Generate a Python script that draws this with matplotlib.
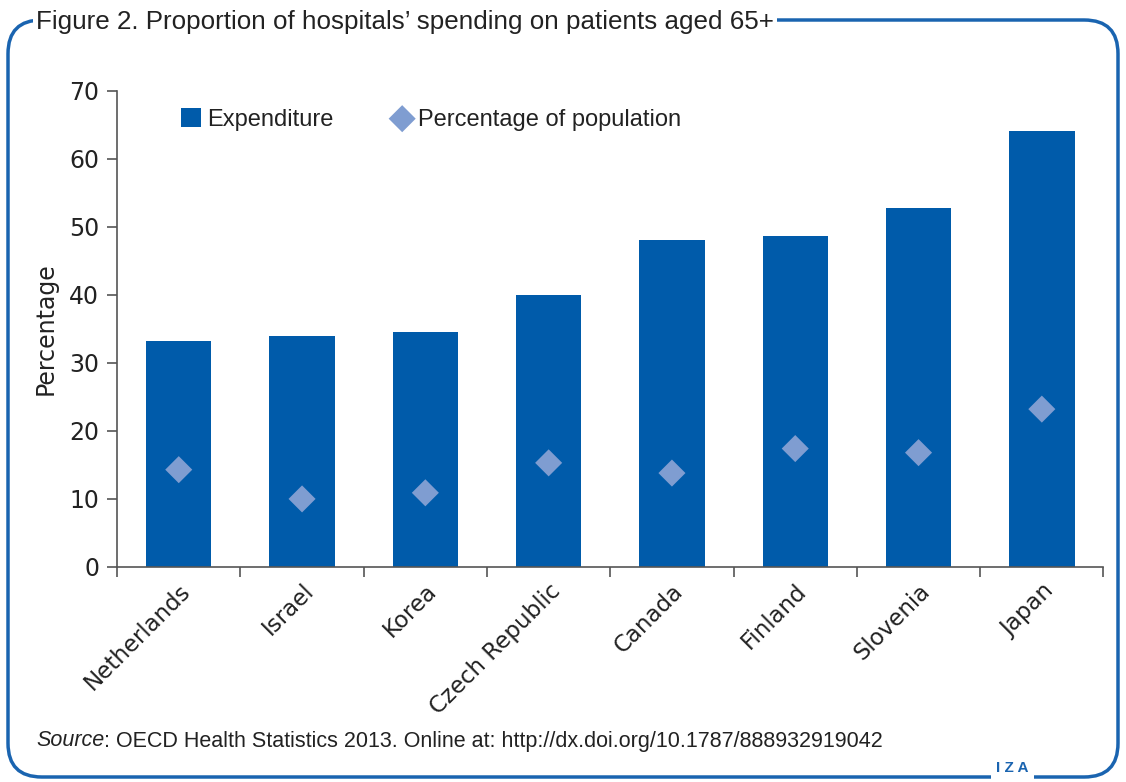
import matplotlib
matplotlib.use("Agg")
import matplotlib.pyplot as plt
import numpy as np
from matplotlib.patches import FancyBboxPatch

# Data
countries = ["Netherlands", "Israel", "Korea", "Czech Republic",
             "Canada", "Finland", "Slovenia", "Japan"]
expenditure = [33.2, 34.0, 34.6, 39.9, 48.1, 48.7, 52.8, 64.1]
pop_share = [14.3, 10.0, 10.9, 15.3, 13.8, 17.4, 16.8, 23.2]

bar_col = '#005baa'
dia_col = '#7f9dd1'
frame_col = '#1a64b0'
txt_col = '#222222'

plt.rcParams['font.family'] = ['Liberation Sans', 'DejaVu Sans']

fig = plt.figure(figsize=(11.26, 7.82), dpi=100)
ax = fig.add_axes([0.104, 0.275, 0.876, 0.609])

x = np.arange(len(countries))
bars = ax.bar(x, expenditure, width=0.53, color=bar_col, label="Expenditure", zorder=2)
dots = ax.scatter(x, pop_share, marker='D', s=190, color=dia_col, edgecolor='none',
                  label="Percentage of population", zorder=3)

ax.set_xlim(-0.5, len(countries) - 0.5)
ax.set_ylim(0, 70)
ax.set_yticks(np.arange(0, 71, 10))
ax.set_xticks(x)
ax.set_xticklabels(countries, rotation=45, ha='right', rotation_mode='anchor',
                   family=['DejaVu Sans'])
ax.set_xticks(np.arange(-0.5, len(countries), 1), minor=True)
ax.tick_params(axis='x', which='major', length=0, labelsize=16.5, pad=9, colors=txt_col)
ax.tick_params(axis='x', which='minor', length=7, width=1.2, color='#555555')
ax.tick_params(axis='y', length=7, width=1.2, color='#555555', labelsize=17,
               labelcolor=txt_col, pad=6)
for lab in ax.get_yticklabels():
    lab.set_family(['DejaVu Sans'])
for s in ['top', 'right']:
    ax.spines[s].set_visible(False)
for s in ['left', 'bottom']:
    ax.spines[s].set_color('#555555')
    ax.spines[s].set_linewidth(1.2)

ax.set_ylabel("Percentage", fontsize=17, color=txt_col, labelpad=8, family=['DejaVu Sans'])

leg = ax.legend([bars, dots], ["Expenditure", "Percentage of population"],
                loc='upper left', bbox_to_anchor=(0.043, 1.008), ncol=2, frameon=False,
                fontsize=17, handlelength=0.85, handleheight=0.85, handletextpad=0.25,
                columnspacing=2.5, scatterpoints=1)
for t in leg.get_texts():
    t.set_color(txt_col)

# Rounded frame
frame = FancyBboxPatch((8 / 1126, 5 / 782), 1110 / 1126, 757 / 782,
                       boxstyle="round,pad=0,rounding_size=0.03",
                       transform=fig.transFigure, fill=False,
                       edgecolor=frame_col, linewidth=2.5, mutation_aspect=1126 / 782)
fig.add_artist(frame)

fig.text(36 / 1126, 1 - 22 / 782, "Figure 2. Proportion of hospitals\u2019 spending on patients aged 65+",
         fontsize=18.7, color=txt_col, va='center', ha='left',
         bbox=dict(facecolor='white', edgecolor='none', pad=2))

src = fig.text(36 / 1126, 1 - 741 / 782, "Source", fontsize=15.5,
               style='italic', color=txt_col, va='center', ha='left')
r = fig.canvas.get_renderer()
bb = src.get_window_extent(renderer=r)
fig.text(bb.x1 / fig.bbox.width, 1 - 741 / 782,
         ": OECD Health Statistics 2013. Online at: http://dx.doi.org/10.1787/888932919042",
         fontsize=15.5, color=txt_col, va='center', ha='left')

fig.text(996 / 1126, 1 - 768 / 782, "I Z A", fontsize=11, color=frame_col,
         fontweight='bold', va='center', ha='left',
         bbox=dict(facecolor='white', edgecolor='none', pad=4))

fig.savefig("out.png", dpi=100)
